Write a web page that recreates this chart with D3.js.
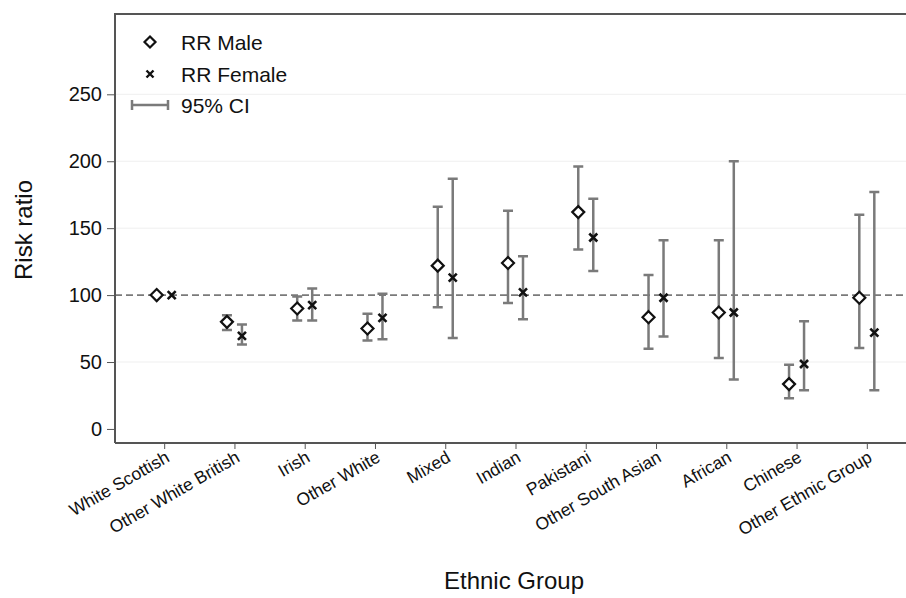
<!DOCTYPE html>
<html lang="en">
<head>
  <meta charset="UTF-8">
  <title>Risk ratio by Ethnic Group</title>
  <script src="https://d3js.org/d3.v7.min.js"></script>
  <style>
    body { margin: 0; background: #fff; }
    svg { display: block; font-family: "Liberation Sans", Arial, sans-serif; }
  </style>
</head>
<body>
  <svg width="906" height="598"></svg>
  <script>
    // data
    const groups = ["White Scottish", "Other White British", "Irish", "Other White", "Mixed",
      "Indian", "Pakistani", "Other South Asian", "African", "Chinese", "Other Ethnic Group"];
    const maleRR = [100, 80, 90, 75, 122, 124, 162, 83.5, 87, 33.5, 98];
    const maleLo = [null, 74, 81, 66, 91, 94, 134, 60, 53, 23, 60.5];
    const maleHi = [null, 85, 99, 86, 166, 163, 196, 115, 141, 48, 160];
    const femaleRR = [100, 69.5, 92.5, 83, 113, 102, 143, 98, 87, 48.5, 72];
    const femaleLo = [null, 63, 81, 67, 68, 82, 118, 69, 37, 29, 29];
    const femaleHi = [null, 78, 105, 101, 187, 129, 172, 141, 200, 80.5, 177];
    const yTicks = [0, 50, 100, 150, 200, 250];

    const svg = d3.select("svg");
    const plotL = 115, plotR = 916, plotT = 14, plotB = 443;
    const grey = "#7a7a7a";

    const x = d3.scalePoint().domain(groups).range([plotL, plotR]).padding(0.7);
    const y = d3.scaleLinear().domain([-10.5, 310]).range([plotB, plotT]);
    const off = 7.5;

    // faint gridlines
    svg.append("g").selectAll("line")
      .data(yTicks.filter(d => d !== 100 && d !== 0))
      .join("line")
      .attr("x1", plotL).attr("x2", plotR)
      .attr("y1", d => y(d)).attr("y2", d => y(d))
      .attr("stroke", "#efefef").attr("stroke-width", 1);

    // reference line at 100
    svg.append("line")
      .attr("x1", plotL).attr("x2", plotR)
      .attr("y1", y(100)).attr("y2", y(100))
      .attr("stroke", grey).attr("stroke-width", 1.6)
      .attr("stroke-dasharray", "7,4");

    // frame
    svg.append("path")
      .attr("d", `M${plotL},${plotB}V${plotT}H${plotR}`)
      .attr("fill", "none").attr("stroke", "#555").attr("stroke-width", 2);
    svg.append("line")
      .attr("x1", plotL).attr("x2", plotR).attr("y1", plotB).attr("y2", plotB)
      .attr("stroke", "#555").attr("stroke-width", 2);

    // y axis
    const yAxis = svg.append("g")
      .attr("transform", `translate(${plotL},0)`)
      .call(d3.axisLeft(y).tickValues(yTicks).tickSize(8).tickPadding(5));
    yAxis.select(".domain").remove();
    yAxis.selectAll(".tick line").attr("stroke", "#555");
    yAxis.selectAll("text").attr("font-size", 20).attr("fill", "#111")
      .attr("font-family", "'Liberation Sans', Arial, sans-serif");

    // x axis
    const xAxis = svg.append("g")
      .attr("transform", `translate(0,${plotB})`)
      .call(d3.axisBottom(x).tickSize(7).tickPadding(3));
    xAxis.select(".domain").remove();
    xAxis.selectAll(".tick line").attr("stroke", "#555").attr("transform", "translate(0,-1)");
    xAxis.selectAll("text")
      .attr("font-size", 17.5).attr("fill", "#111")
      .attr("font-family", "'Liberation Sans', Arial, sans-serif")
      .attr("text-anchor", "end")
      .attr("dy", "0")
      .attr("transform", "translate(1,9) rotate(-30)");

    // confidence intervals
    function drawCI(lo, hi, dx) {
      const rows = groups.map((g, i) => ({ g, lo: lo[i], hi: hi[i] })).filter(d => d.lo != null);
      const g = svg.append("g").attr("stroke", grey).attr("stroke-width", 2.5).attr("fill", "none");
      g.selectAll("path")
        .data(rows)
        .join("path")
        .attr("d", d => {
          const cx = x(d.g) + dx;
          return `M${cx},${y(d.lo)}V${y(d.hi)}M${cx - 5},${y(d.hi)}H${cx + 5}M${cx - 5},${y(d.lo)}H${cx + 5}`;
        });
    }
    drawCI(maleLo, maleHi, -off);
    drawCI(femaleLo, femaleHi, off);

    // male diamonds
    const diamond = (cx, cy, r) => `M${cx},${cy - r}L${cx + r},${cy}L${cx},${cy + r}L${cx - r},${cy}Z`;
    svg.append("g").selectAll("path")
      .data(groups)
      .join("path")
      .attr("d", (g, i) => diamond(x(g) - off, y(maleRR[i]), 6))
      .attr("fill", "#fff").attr("stroke", "#111").attr("stroke-width", 2.2);

    // female crosses
    const cross = (cx, cy, r) => `M${cx - r},${cy - r}L${cx + r},${cy + r}M${cx - r},${cy + r}L${cx + r},${cy - r}`;
    svg.append("g").selectAll("path")
      .data(groups)
      .join("path")
      .attr("d", (g, i) => cross(x(g) + off, y(femaleRR[i]), 4))
      .attr("fill", "none").attr("stroke", "#111").attr("stroke-width", 2.6);

    // legend
    const lg = svg.append("g").attr("font-size", 21).attr("fill", "#111");
    lg.append("path").attr("d", diamond(150, 42, 5.5))
      .attr("fill", "#fff").attr("stroke", "#111").attr("stroke-width", 2.2);
    lg.append("path").attr("d", cross(150, 74, 3.5))
      .attr("fill", "none").attr("stroke", "#111").attr("stroke-width", 2.4);
    lg.append("path").attr("d", "M132,105H168M132,100V110M168,100V110")
      .attr("fill", "none").attr("stroke", grey).attr("stroke-width", 2.5);
    [["RR Male", 42], ["RR Female", 74], ["95% CI", 105]].forEach(([t, cy]) => {
      lg.append("text").attr("x", 181).attr("y", cy + 8).text(t);
    });

    // axis titles
    svg.append("text")
      .attr("x", 514).attr("y", 589)
      .attr("text-anchor", "middle")
      .attr("font-size", 24).attr("fill", "#111")
      .text("Ethnic Group");
    svg.append("text")
      .attr("transform", "translate(32,230) rotate(-90)")
      .attr("text-anchor", "middle")
      .attr("font-size", 24).attr("fill", "#111")
      .text("Risk ratio");
  </script>
</body>
</html>
